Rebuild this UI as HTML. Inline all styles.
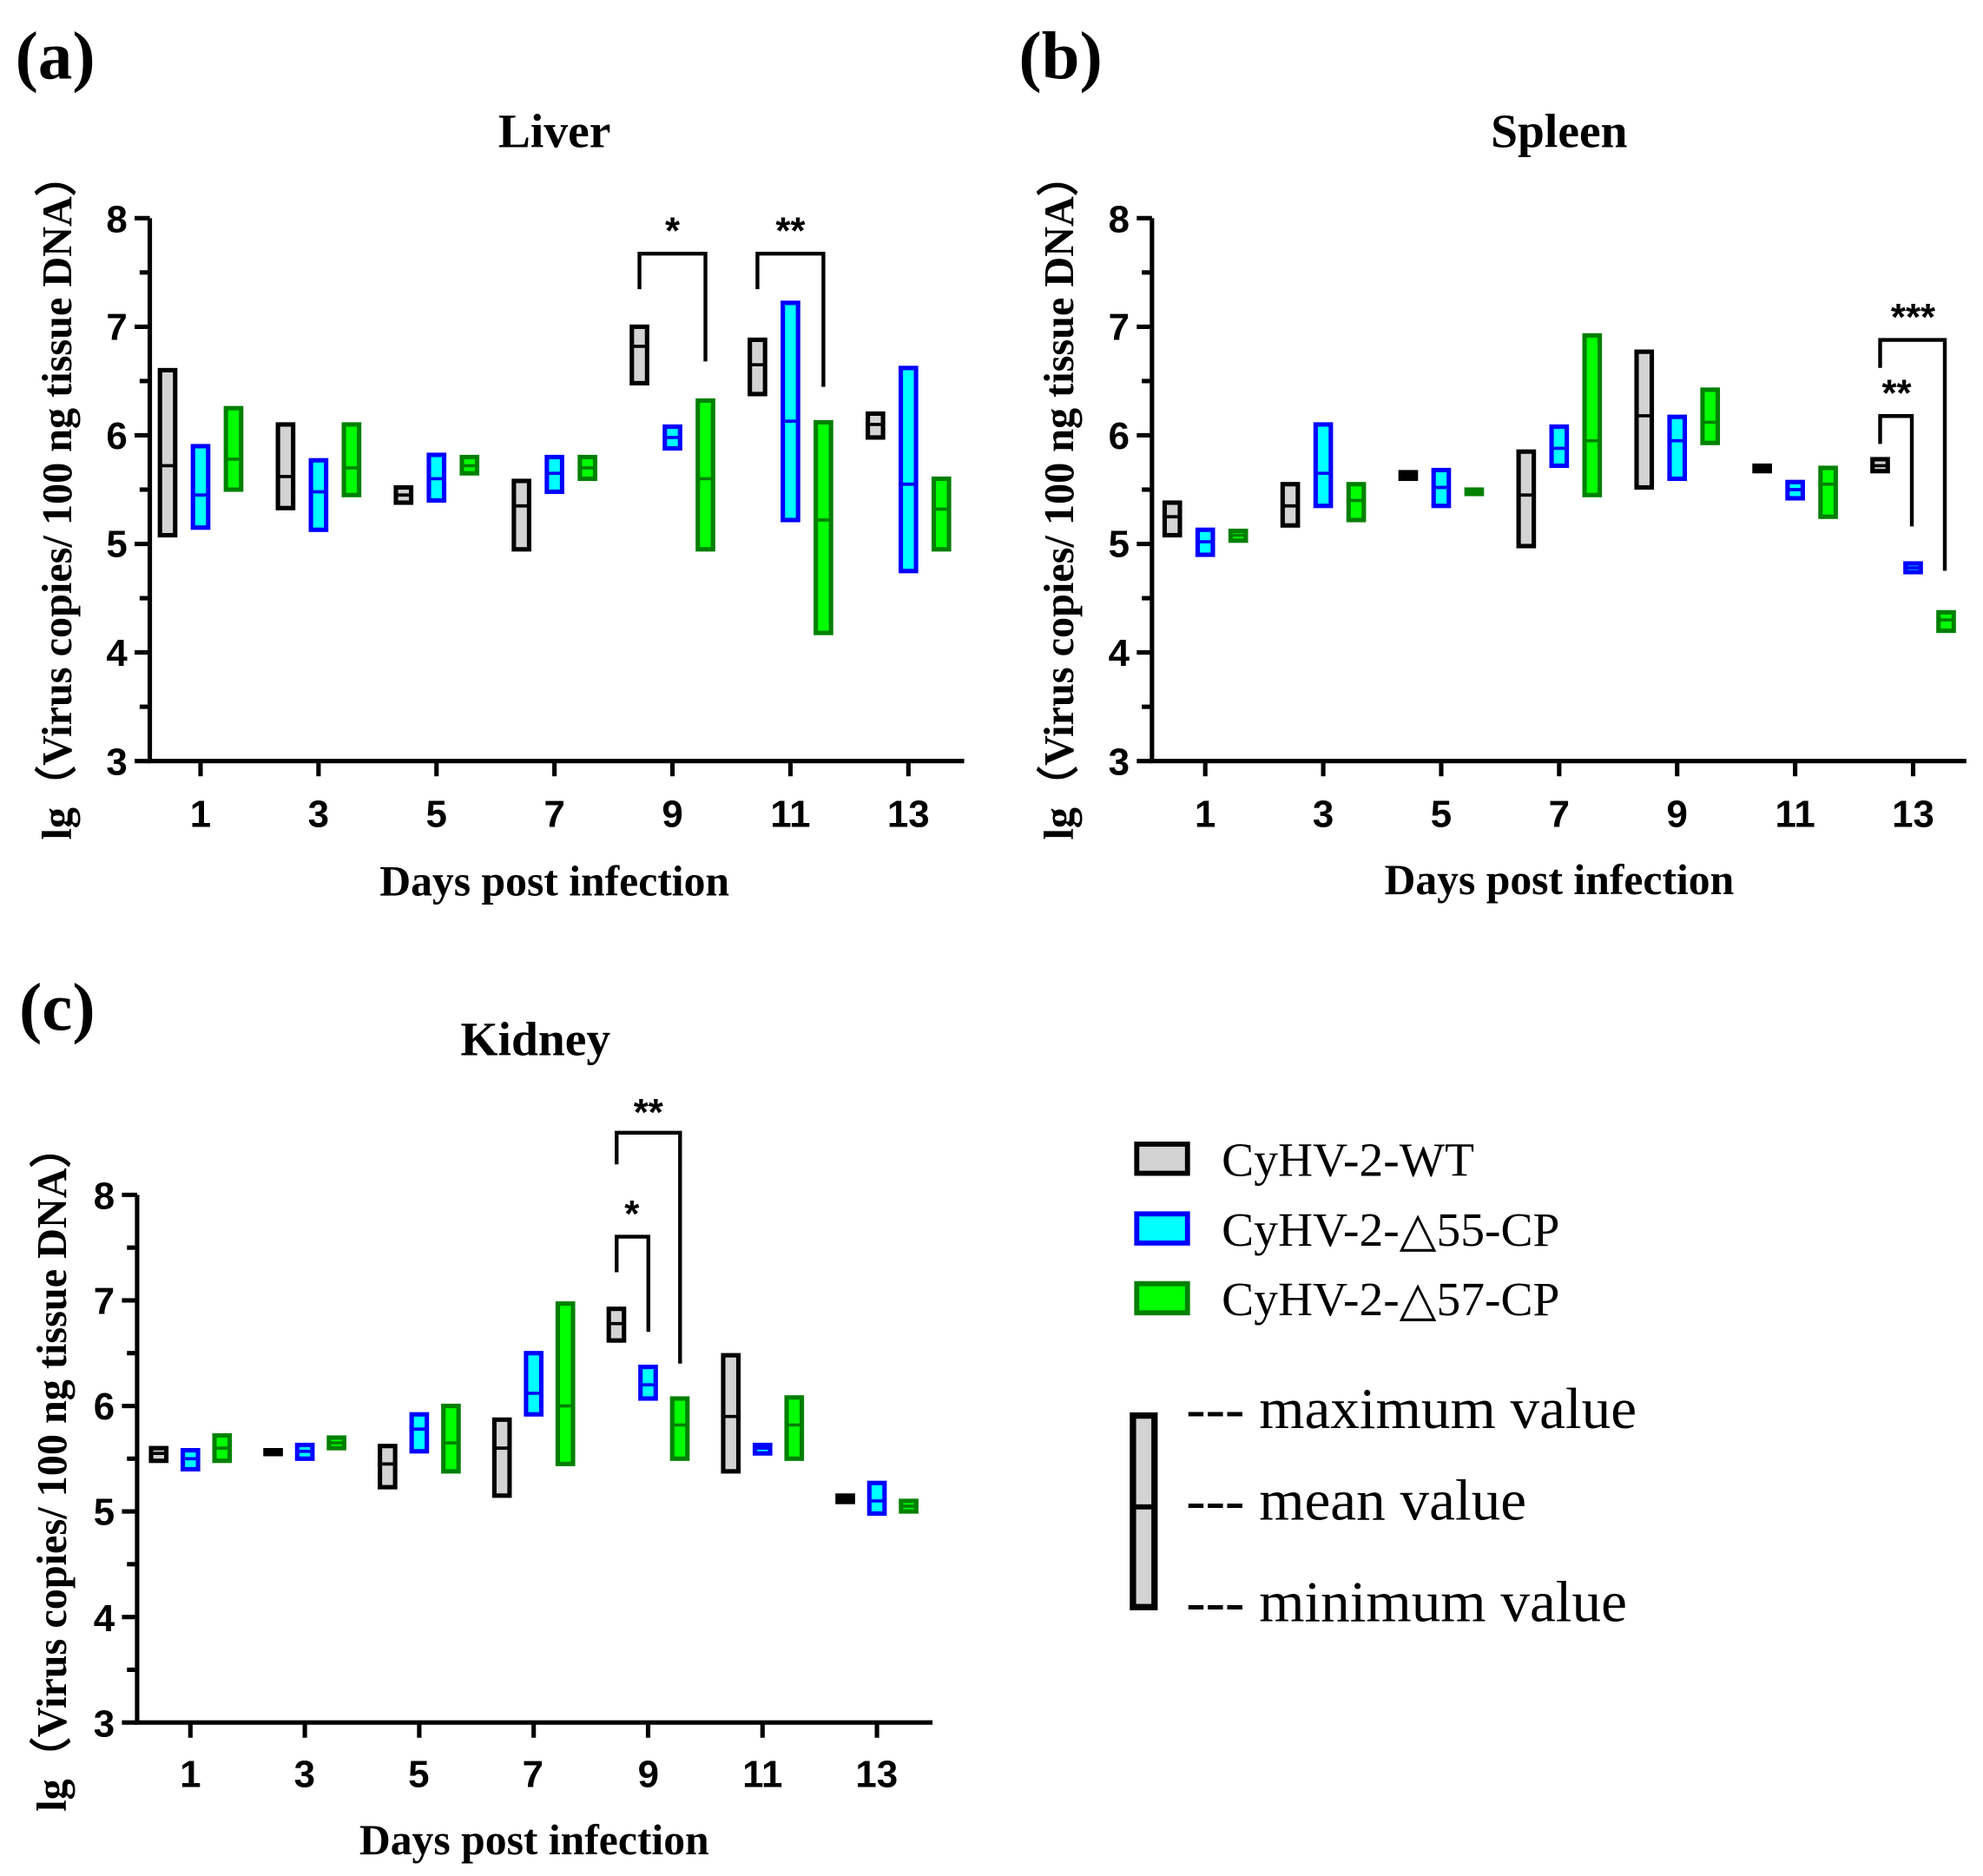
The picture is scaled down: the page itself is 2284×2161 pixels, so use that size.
<!DOCTYPE html>
<html><head><meta charset="utf-8"><style>
html,body{margin:0;padding:0;background:#fff}
svg{display:block}
.t{font-family:"Liberation Sans",sans-serif;font-weight:bold;font-size:30px;text-anchor:middle}
.s{font-family:"Liberation Serif",serif;font-weight:bold}
.l{font-family:"Liberation Serif",serif}
</style></head><body>
<svg id="g" width="2284" height="2161" viewBox="0 0 1563 1479" xmlns="http://www.w3.org/2000/svg">
<rect width="1563" height="1479" fill="#fff"/>
<text class="s" x="12" y="62" font-size="54">(a)</text>
<text class="s" x="803" y="62" font-size="54">(b)</text>
<text class="s" x="15" y="812" font-size="54">(c)</text>
<text class="s" x="437" y="116" font-size="38" text-anchor="middle">Liver</text>
<text class="s" x="1229" y="116" font-size="38" text-anchor="middle">Spleen</text>
<text class="s" x="422" y="832" font-size="38" text-anchor="middle">Kidney</text>
<text class="s" x="437" y="706" font-size="34" text-anchor="middle">Days post infection</text>
<text class="s" x="1229" y="705" font-size="34" text-anchor="middle">Days post infection</text>
<text class="s" x="421" y="1462" font-size="34" text-anchor="middle">Days post infection</text>
<text class="s" font-size="33" text-anchor="middle" transform="translate(56,392) rotate(-90)">lg（Virus copies/ 100 ng tissue DNA）</text>
<text class="s" font-size="33" text-anchor="middle" transform="translate(846,392) rotate(-90)">lg（Virus copies/ 100 ng tissue DNA）</text>
<text class="s" font-size="33" text-anchor="middle" transform="translate(52,1158) rotate(-90)">lg（Virus copies/ 100 ng tissue DNA）</text>
<g class="t">
<text x="92" y="183">8</text><text x="92" y="268">7</text><text x="92" y="354">6</text><text x="92" y="439">5</text><text x="92" y="525">4</text><text x="92" y="611">3</text>
<text x="158" y="652">1</text><text x="251" y="652">3</text><text x="344" y="652">5</text><text x="437" y="652">7</text><text x="530" y="652">9</text><text x="623" y="652">11</text><text x="716" y="652">13</text>
<text x="882" y="183">8</text><text x="882" y="268">7</text><text x="882" y="354">6</text><text x="882" y="439">5</text><text x="882" y="525">4</text><text x="882" y="611">3</text>
<text x="950" y="652">1</text><text x="1043" y="652">3</text><text x="1136" y="652">5</text><text x="1229" y="652">7</text><text x="1322" y="652">9</text><text x="1415" y="652">11</text><text x="1508" y="652">13</text>
<text x="82" y="953">8</text><text x="82" y="1036">7</text><text x="82" y="1119">6</text><text x="82" y="1202">5</text><text x="82" y="1286">4</text><text x="82" y="1369">3</text>
<text x="150" y="1409">1</text><text x="240" y="1409">3</text><text x="330" y="1409">5</text><text x="420" y="1409">7</text><text x="511" y="1409">9</text><text x="601" y="1409">11</text><text x="691" y="1409">13</text>
</g>
<g class="t" font-size="36">
<text x="530" y="192">*</text><text x="623" y="192">**</text>
<text x="1508" y="260">***</text><text x="1495" y="320">**</text>
<text x="511" y="887">**</text><text x="498" y="967">*</text>
</g>
<g fill="none" stroke="#000" stroke-width="3">
<polyline points="504,228 504,200 556,200 556,285"/>
<polyline points="597,228 597,200 649,200 649,305"/>
<polyline points="1482,290 1482,268 1533,268 1533,450"/>
<polyline points="1482,350 1482,328 1507,328 1507,415"/>
<polyline points="486,918 486,893 536,893 536,1075"/>
<polyline points="486,1003 486,975 511,975 511,1050"/>
</g>
<rect x="896" y="902" width="40" height="23" fill="#d3d3d3" stroke="#000" stroke-width="4"/>
<rect x="896" y="957" width="40" height="23" fill="#00ffff" stroke="#0000ff" stroke-width="4"/>
<rect x="896" y="1012" width="40" height="23" fill="#00ff00" stroke="#008000" stroke-width="4"/>
<text class="l" x="963" y="927" font-size="38">CyHV-2-WT</text>
<text class="l" x="963" y="982" font-size="38">CyHV-2-△55-CP</text>
<text class="l" x="963" y="1037" font-size="38">CyHV-2-△57-CP</text>
<rect x="893" y="1116" width="17" height="151" fill="#d3d3d3" stroke="#000" stroke-width="5"/>
<line x1="893" y1="1188" x2="910" y2="1188" stroke="#000" stroke-width="4"/>
<text class="l" x="935" y="1126" font-size="46">--- maximum value</text>
<text class="l" x="935" y="1198" font-size="46">--- mean value</text>
<text class="l" x="935" y="1278" font-size="46">--- minimum value</text>
<g id="dyn"></g>
</svg>
<script>
var NS="http://www.w3.org/2000/svg",G=document.getElementById("dyn");
function el(t,a){var e=document.createElementNS(NS,t);for(var k in a)e.setAttribute(k,a[k]);G.appendChild(e);return e;}
var C=[["#d3d3d3","#000"],["#00ffff","#0000ff"],["#00ff00","#008000"]];
function panel(ax,x1,y8,y3,d0,dd,off,data){
 var u=(y3-y8)/5;function Y(v){return y3-(v-3)*u;}
 el("polyline",{points:ax+","+y8+" "+ax+","+y3+" "+x1+","+y3,fill:"none",stroke:"#000","stroke-width":3.5});
 for(var i=0;i<=10;i++){var y=y8+i*u/2;el("line",{x1:ax-(i%2?8:12),y1:y,x2:ax,y2:y,stroke:"#000","stroke-width":3.5});}
 for(var j=0;j<7;j++){var x=d0+j*dd;el("line",{x1:x,y1:y3,x2:x,y2:y3+12,stroke:"#000","stroke-width":3.5});
  for(var k=0;k<3;k++){var b=data[j][k];if(!b)continue;var cx=x+(k-1)*off,t=Y(b[0]),m=Y(b[1]),bt=Y(b[2]);
   var h=Math.max(bt-t,3);
   el("rect",{x:cx-6,y:t,width:12,height:h,fill:C[k][0],stroke:C[k][1],"stroke-width":3.5});
   el("line",{x1:cx-6,y1:m,x2:cx+6,y2:m,stroke:C[k][1],"stroke-width":2.5});}}
}
panel(118,760,172,600,158,93,26,[
[[6.6,5.72,5.08],[5.9,5.45,5.15],[6.25,5.78,5.5]],
[[6.1,5.62,5.33],[5.77,5.48,5.13],[6.1,5.7,5.45]],
[[5.52,5.45,5.38],[5.82,5.6,5.4],[5.8,5.72,5.65]],
[[5.58,5.35,4.95],[5.8,5.65,5.48],[5.8,5.7,5.6]],
[[7.0,6.82,6.48],[6.08,5.98,5.88],[6.32,5.6,4.95]],
[[6.88,6.65,6.38],[7.22,6.13,5.22],[6.12,5.22,4.18]],
[[6.2,6.1,5.98],[6.62,5.55,4.75],[5.6,5.32,4.95]]]);
panel(908,1550,172,600,950,93,26,[
[[5.38,5.25,5.08],[5.13,5.02,4.9],[5.12,5.08,5.03]],
[[5.55,5.35,5.17],[6.1,5.65,5.35],[5.55,5.4,5.22]],
[[5.66,5.63,5.6],[5.68,5.52,5.35],[5.5,5.48,5.46]],
[[5.85,5.45,4.98],[6.08,5.88,5.72],[6.92,5.95,5.45]],
[[6.77,6.18,5.52],[6.17,5.95,5.6],[6.42,6.12,5.93]],
[[5.72,5.7,5.67],[5.57,5.5,5.42],[5.7,5.55,5.25]],
[[5.78,5.72,5.67],[4.82,4.78,4.74],[4.37,4.3,4.2]]]);
panel(108,735,942,1358,150,90.2,25,[
[[5.6,5.55,5.48],[5.58,5.5,5.4],[5.72,5.6,5.48]],
[[5.58,5.57,5.56],[5.63,5.57,5.5],[5.7,5.65,5.6]],
[[5.62,5.45,5.23],[5.92,5.78,5.57],[6.0,5.65,5.38]],
[[5.87,5.6,5.15],[6.5,6.12,5.92],[6.97,6.0,5.45]],
[[6.92,6.78,6.62],[6.37,6.2,6.07],[6.07,5.82,5.5]],
[[6.48,5.9,5.38],[5.63,5.6,5.55],[6.08,5.82,5.5]],
[[5.15,5.12,5.09],[5.27,5.1,4.98],[5.1,5.05,5.0]]]);
</script>
</body></html>
